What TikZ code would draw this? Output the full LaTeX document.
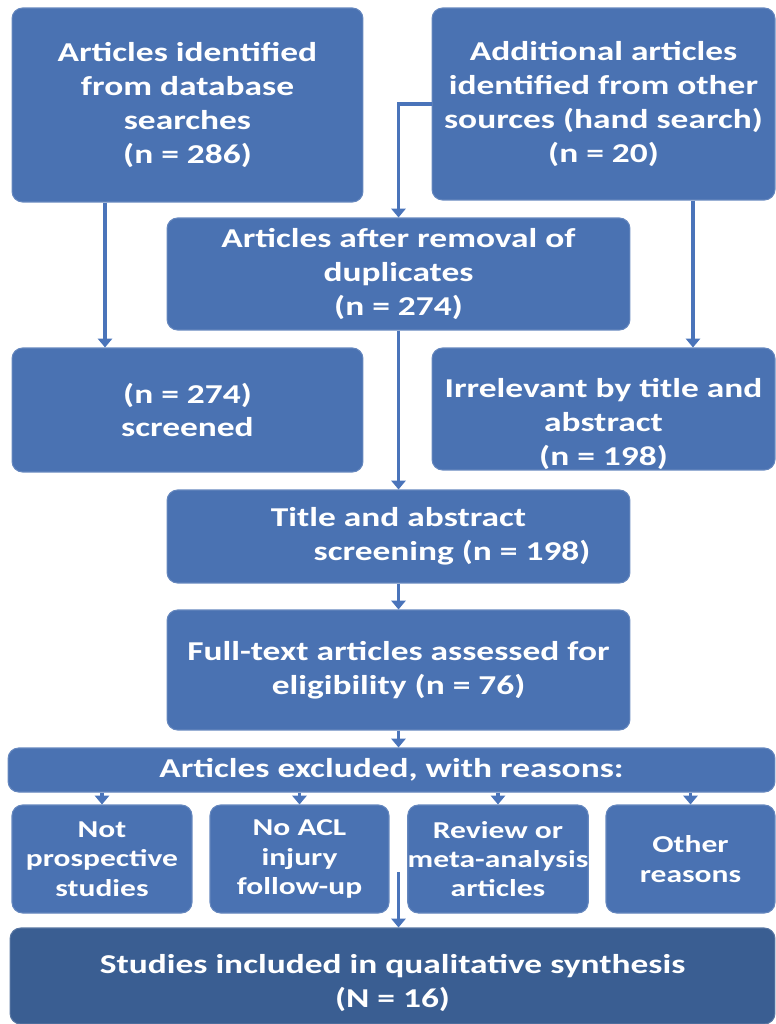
\documentclass[tikz,border=0pt]{standalone}
\usepackage{fontspec}
\setmainfont{Carlito}[FakeStretch=1.3]
\usepackage{xcolor}
\usepackage{tikz}
\usetikzlibrary{arrows.meta,positioning,calc}
\definecolor{boxblue}{HTML}{4A72B2}
\definecolor{darkblue}{HTML}{3A5E92}
\definecolor{arrowblue}{HTML}{4A74BA}

\begin{document}
\begin{tikzpicture}[x=0.02cm, y=-0.02cm,
    box/.style={rectangle, rounded corners=6pt, fill=boxblue, draw=boxblue!85!white,
        line width=0.6pt, text=white, align=center, inner sep=0pt,
        font=\bfseries\fontsize{15.5}{19.3}\selectfont},
    smallbox/.style={box, font=\bfseries\fontsize{13.8}{16.7}\selectfont},
    arr/.style={arrowblue, line width=1.8pt, -{Triangle[width=8pt,length=5pt]}}]
    \useasboundingbox (0,0) rectangle (775,1024);

    % Identification
    \node[box, minimum width=7.02cm, minimum height=3.88cm] (A) at (187.5,105)
        {Articles identified\\from database\\searches\\(n = 286)};
    \node[box, minimum width=6.86cm, minimum height=3.84cm] (B) at (603.5,104)
        {Additional articles\\identified from other\\sources (hand search)\\(n = 20)};
    \node[box, minimum width=9.26cm, minimum height=2.24cm] (C) at (398.5,274)
        {Articles after removal of\\duplicates\\(n = 274)};

    % Screening
    \node[box, minimum width=7.02cm, minimum height=2.48cm] (D) at (187.5,410)
        {(n = 274)\\screened};
    \node[box, minimum width=6.86cm, minimum height=2.44cm, text height=66pt, text depth=2pt] (E) at (603.5,409)
        {Irrelevant by title and\\abstract\\(n = 198)};
    \node[box, minimum width=9.26cm, minimum height=1.86cm] (F) at (398.5,536.5)
        {Title and abstract\\\hspace*{61pt}screening (n = 198)};

    % Eligibility
    \node[box, minimum width=9.26cm, minimum height=2.4cm] (G) at (398.5,670)
        {Full-text articles assessed for\\eligibility (n = 76)};
    \node[box, minimum width=15.34cm, minimum height=0.88cm] (H) at (391.5,770)
        {Articles excluded, with reasons:};
    \node[smallbox, minimum width=3.6cm, minimum height=2.16cm] (I1) at (102,859)
        {Not\\prospective\\studies};
    \node[smallbox, minimum width=3.58cm, minimum height=2.16cm] (I2) at (299.5,859)
        {No ACL\\injury\\follow-up};
    \node[smallbox, minimum width=3.6cm, minimum height=2.16cm] (I3) at (498,859)
        {Review or\\meta-analysis\\articles};
    \node[smallbox, minimum width=3.38cm, minimum height=2.16cm] (I4) at (690.5,859)
        {Other\\reasons};

    % Included
    \node[box, fill=darkblue, draw=darkblue!85!white, minimum width=15.3cm, minimum height=1.92cm, text height=38pt] (J) at (392.5,976)
        {Studies included in qualitative synthesis\\(N = 16)};

    % Arrows
    \draw[arr] ([xshift=-1.65cm]A.south) -- ([xshift=-1.65cm]D.north);
    \draw[arr] (B.west) -| (C.north);
    \draw[arr] ([xshift=1.79cm]B.south) -- ([xshift=1.79cm]E.north);
    \draw[arr] (C.south) -- (F.north);
    \draw[arr] (F.south) -- (G.north);
    \draw[arr] (G.south) -- (G.south |- H.north);
    \foreach \n in {I1,I2,I3,I4}
        \draw[arr] (H.south -| \n.north) -- (\n.north);
    \coordinate (gapstart) at (398.5,872);
    \draw[arr] (gapstart) -- (gapstart |- J.north);
\end{tikzpicture}
\end{document}
